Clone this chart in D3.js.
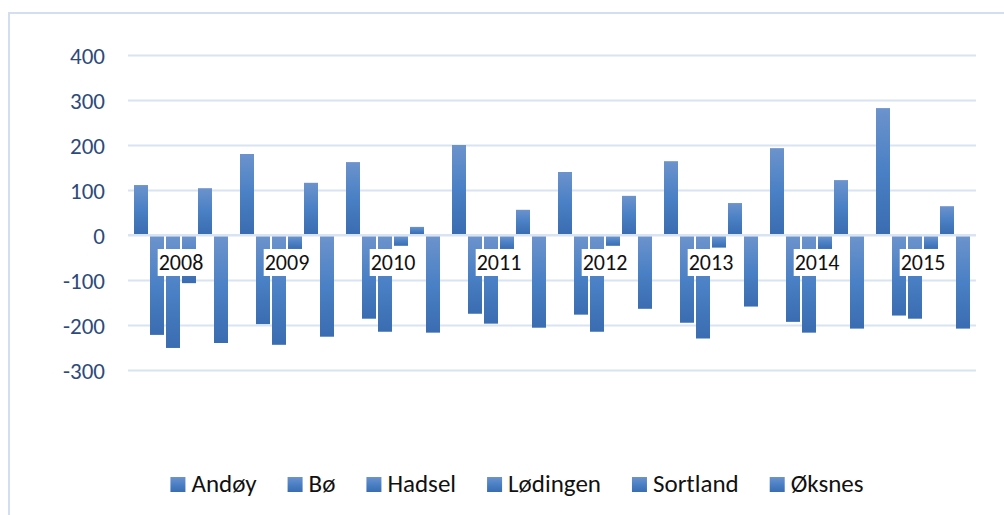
<!DOCTYPE html>
<html>
<head>
<meta charset="utf-8">
<script src="https://cdn.jsdelivr.net/npm/d3@7"></script>
<style>
  html, body { margin: 0; padding: 0; background: #fff; }
  svg { display: block; }
  text { font-family: Carlito, Calibri, Lato, "Noto Sans", sans-serif; }
</style>
</head>
<body>
<div id="viz"></div>
<script>
// data
var years = ["2008", "2009", "2010", "2011", "2012", "2013", "2014", "2015"];
var kommuner = ["Andøy", "Bø", "Hadsel", "Lødingen", "Sortland", "Øksnes"];
var andoy    = [111, 180, 162, 200, 140, 164, 193, 282];
var bo       = [-222, -198, -186, -175, -177, -195, -193, -179];
var hadsel   = [-251, -244, -215, -197, -215, -230, -217, -186];
var lodingen = [-107, -31, -24, -31, -24, -28, -31, -31];
var sortland = [104, 116, 18, 56, 87, 71, 122, 64];
var oksnes   = [-240, -226, -217, -206, -164, -159, -208, -208];
var yTicks = [-300, -200, -100, 0, 100, 200, 300, 400];

var series = [andoy, bo, hadsel, lodingen, sortland, oksnes];

var width = 1004, height = 515;
var plot = {left: 128, right: 976, top: 55, bottom: 370};

var svg = d3.select("#viz").append("svg")
    .attr("width", width)
    .attr("height", height);

// bar gradient (light on top, darker below)
var defs = svg.append("defs");
var grad = defs.append("linearGradient")
    .attr("id", "barGrad")
    .attr("x1", 0).attr("y1", 0).attr("x2", 0).attr("y2", 1);
grad.append("stop").attr("offset", "0%").attr("stop-color", "#6c93cc");
grad.append("stop").attr("offset", "50%").attr("stop-color", "#4a80c5");
grad.append("stop").attr("offset", "100%").attr("stop-color", "#3a6cb1");

// chart frame (only top and left edges are in view)
svg.append("path")
    .attr("d", "M9,515 V13 H1004")
    .attr("fill", "none")
    .attr("stroke", "#d3def0")
    .attr("stroke-width", 2);

var x0 = d3.scaleBand()
    .domain(years)
    .range([plot.left, plot.right])
    .paddingInner(12 / 106)
    .paddingOuter(6 / 106);

var x1 = d3.scaleBand()
    .domain(d3.range(kommuner.length))
    .range([0, x0.bandwidth()])
    .paddingInner(0.125);

var y = d3.scaleLinear()
    .domain([-300, 400])
    .range([plot.bottom, plot.top]);

// gridlines
var grid = svg.append("g")
    .attr("transform", "translate(" + plot.left + ",0)")
    .call(d3.axisLeft(y).tickValues(yTicks).tickSize(-(plot.right - plot.left)).tickFormat(""));
grid.select(".domain").remove();
grid.selectAll("line")
    .attr("stroke", "#d9e4f3")
    .attr("stroke-width", 2);

// tick labels (plain hyphen for negatives, like the original)
var yAxis = svg.append("g")
    .attr("transform", "translate(" + plot.left + ",0)")
    .call(d3.axisLeft(y).tickValues(yTicks).tickSize(0).tickPadding(23)
        .tickFormat((d) => String(d)));
yAxis.select(".domain").remove();
yAxis.selectAll("text")
    .attr("fill", "#2d4a7b")
    .style("font-size", "23px")
    .attr("dy", "0.36em");

// bars
var rows = years.map(function(yr, i) {
    return {year: yr, values: series.map(function(s, k) { return {k: k, v: s[i]}; })};
});

var group = svg.append("g").selectAll(".year")
    .data(rows)
    .enter().append("g")
        .attr("class", "year")
        .attr("transform", (d) => "translate(" + x0(d.year) + ",0)");

group.selectAll("rect")
    .data((d) => d.values)
    .enter().append("rect")
        .attr("x", (d) => x1(d.k))
        .attr("width", x1.bandwidth())
        .attr("y", (d) => d.v >= 0 ? y(d.v) : y(0) + 1.5)
        .attr("height", (d) => d.v >= 0 ? y(0) - y(d.v) - 1 : y(d.v) - y(0) - 1.5)
        .attr("fill", "url(#barGrad)");

// category labels sit on the zero line with a white box behind them
var cat = svg.append("g").selectAll(".cat")
    .data(years)
    .enter().append("g")
        .attr("class", "cat");

cat.append("rect").attr("fill", "#fff");
cat.append("text")
    .attr("x", (d) => x0(d) + x0.bandwidth() / 2)
    .attr("y", 270)
    .attr("text-anchor", "middle")
    .attr("fill", "#111")
    .style("font-size", "22px")
    .text((d) => d);

cat.each(function() {
    var g = d3.select(this);
    var b = g.select("text").node().getBBox();
    g.select("rect")
        .attr("x", b.x - 1)
        .attr("width", b.width + 2)
        .attr("y", 249)
        .attr("height", 27);
});

// legend
var legend = svg.append("g");
var item = legend.selectAll(".item")
    .data(kommuner)
    .enter().append("g")
        .attr("class", "item");

item.append("rect")
    .attr("width", 15)
    .attr("height", 15)
    .attr("y", 477)
    .attr("fill", "url(#barGrad)");
item.append("text")
    .attr("x", 21)
    .attr("y", 492)
    .attr("fill", "#111")
    .style("font-size", "25px")
    .text((d) => d);

var gap = 31;
var pos = 0, offsets = [];
item.each(function() {
    offsets.push(pos);
    pos += 21 + this.querySelector("text").getComputedTextLength() + gap;
});
var total = pos - gap;
var start = 517 - total / 2;
item.attr("transform", (d, i) => "translate(" + (start + offsets[i]) + ",0)");

// zero line over the bars
svg.append("line")
    .attr("x1", plot.left).attr("x2", plot.right)
    .attr("y1", y(0)).attr("y2", y(0))
    .attr("stroke", "#d9e4f3")
    .attr("stroke-width", 2);
</script>
</body>
</html>
